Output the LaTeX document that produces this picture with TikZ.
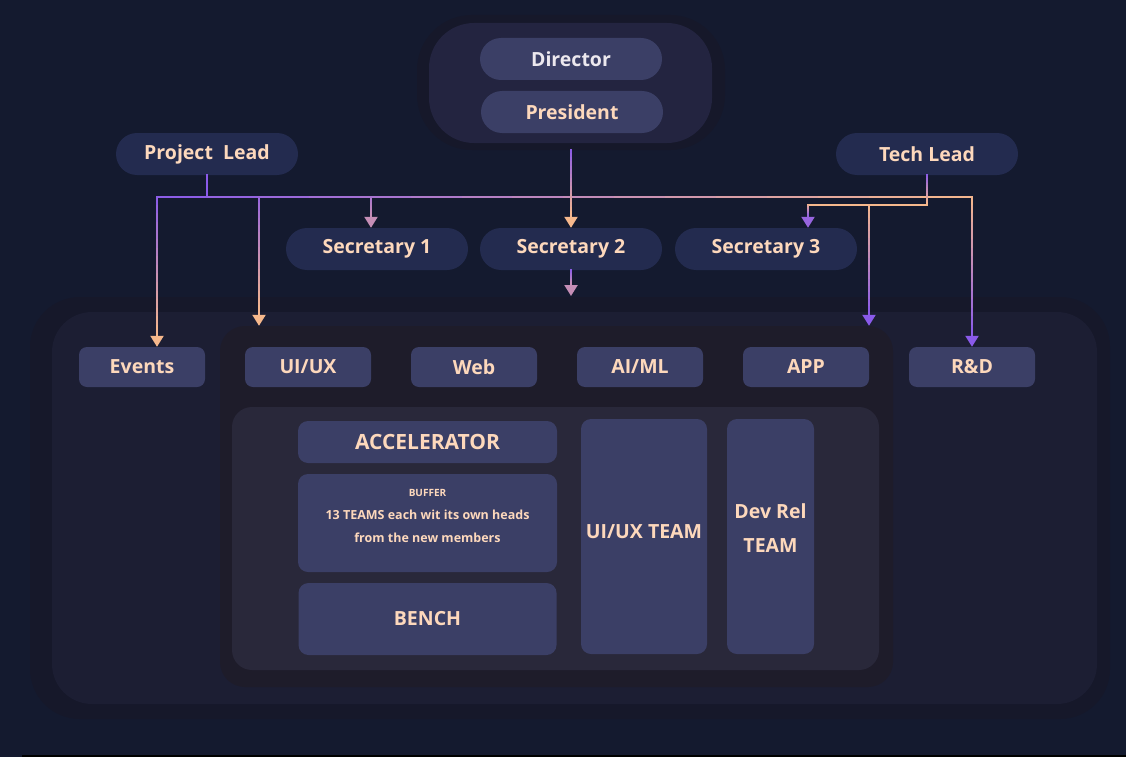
\documentclass[tikz,border=0pt]{standalone}
\usepackage{fontspec}
\setmainfont{Open Sans}
\usetikzlibrary{arrows.meta,calc}

\definecolor{bgnavy}{HTML}{141A2F}
\definecolor{framedark}{HTML}{16182A}
\definecolor{areanavy}{HTML}{1C1E33}
\definecolor{coredark}{HTML}{1E1C2A}
\definecolor{panelgrey}{HTML}{29283A}
\definecolor{boxblue}{HTML}{3B3F66}
\definecolor{pillblue}{HTML}{232B4F}
\definecolor{groupnavy}{HTML}{232440}
\definecolor{peach}{HTML}{FDD8BC}
\definecolor{paleink}{HTML}{ECE8EE}
\definecolor{wirepurple}{HTML}{8A5AEA}
\definecolor{wirepeach}{HTML}{F6B88C}

\newcommand{\boxfont}{\bfseries\fontsize{19.5}{34}\selectfont}

% wire that fades from purple to peach, in short pieces
\newcommand{\gradwire}[4]{%
  \foreach \k in {0,...,15}{%
    \pgfmathsetmacro{\gfrom}{\k/16}%
    \pgfmathsetmacro{\gto}{(\k+1)/16}%
    \pgfmathsetmacro{\gmix}{#3+(#4-#3)*(\k+0.5)/16}%
    \draw[wire, draw=wirepeach!\gmix!wirepurple] ($(#1)!\gfrom!(#2)$) -- ($(#1)!\gto!(#2)$);
  }}
\newcommand{\gradarrow}[4]{%
  \coordinate (gtail) at ($(#2)!12pt!(#1)$);
  \gradwire{#1}{gtail}{#3}{#4}%
  \draw[wire, line cap=butt, -{Triangle[width=13pt,length=11pt]},
    draw=wirepeach!#4!wirepurple, fill=wirepeach!#4!wirepurple] (gtail) -- (#2);
}

\begin{document}
\begin{tikzpicture}[
  x=1pt, y=-1pt,
  shell/.style={inner sep=0pt},
  pill/.style={rounded corners=21pt, fill=pillblue, minimum width=182pt, minimum height=42pt,
    inner sep=0pt, text=peach, font=\boxfont},
  unitbox/.style={rounded corners=8pt, fill=boxblue, minimum width=126pt, minimum height=40pt,
    inner sep=0pt, text=peach, font=\boxfont},
  teambox/.style={rounded corners=10pt, fill=boxblue, inner sep=0pt, text=peach,
    font=\boxfont, align=center},
  wire/.style={line width=2.2pt, line cap=rect}
]
\useasboundingbox (0,0) rectangle (1126,757);
\fill[bgnavy] (0,0) rectangle (1126,757);
\fill[black] (22,755) rectangle (1126,757);

% top group
\node[shell, fill=framedark, minimum width=308pt, minimum height=135pt, rounded corners=55pt] (topgroup) at (571,82.5) {};
\node[shell, fill=groupnavy, minimum width=283pt, minimum height=120pt, rounded corners=45pt] (topinner) at (570.5,83) {};
\node[pill, fill=boxblue, text=paleink] (director) at (571,59) {Director};
\node[pill, fill=boxblue] (president) at (572,112) {President};

\node[pill] (projlead) at (207,154) {Project\ \ Lead};
\node[pill] (techlead) at (927,154) {Tech Lead};
\node[pill] (sec1) at (377,249) {Secretary 1};
\node[pill] (sec2) at (571,249) {Secretary 2};
\node[pill] (sec3) at (766,249) {Secretary 3};

% containers
\node[shell, fill=framedark, minimum width=1080pt, minimum height=422pt, rounded corners=50pt] (outer) at (570,508) {};
\node[shell, fill=areanavy, minimum width=1045pt, minimum height=392pt, rounded corners=40pt] (area) at (574.5,508) {};
\node[shell, fill=coredark, minimum width=673pt, minimum height=361pt, rounded corners=25pt] (core) at (556.5,506.5) {};
\node[shell, fill=panelgrey, minimum width=647pt, minimum height=263pt, rounded corners=20pt] (panel) at (555.5,538.5) {};

\node[unitbox] (events) at (142,367) {Events};
\node[unitbox] (uiux) at (308,367) {UI/UX};
\node[unitbox] (web) at (474,367) {Web};
\node[unitbox] (aiml) at (640,367) {AI/ML};
\node[unitbox] (app) at (806,367) {APP};
\node[unitbox] (rnd) at (972,367) {R\&D};

\node[teambox, minimum width=259pt, minimum height=42pt, font=\bfseries\fontsize{21}{25}\selectfont] (accel) at (427.5,442) {ACCELERATOR};
\node[teambox, minimum width=259pt, minimum height=98pt] (buffer) at (427.5,523) {};
\node[text=peach, font=\bfseries\fontsize{12.5}{23}\selectfont, align=center, inner sep=0pt]
  (buffertext) at ([yshift=7pt]buffer.center)
  {{\fontsize{10}{12}\selectfont BUFFER}\\
   13 TEAMS each wit its own heads\\
   from the new members};
\node[teambox, minimum width=258pt, minimum height=72pt] (bench) at (427.5,619) {BENCH};
\node[teambox, minimum width=126pt, minimum height=235pt] (uiuxteam) at (644,536.5) {};
\node[text=peach, font=\boxfont, inner sep=0pt] (uiuxtext) at ([yshift=5pt]uiuxteam.center) {UI/UX TEAM};
\node[teambox, minimum width=87pt, minimum height=235pt] (devrel) at (770.5,536.5) {};
\node[text=peach, font=\boxfont, align=center, inner sep=0pt] (devreltext) at ([yshift=8pt]devrel.center) {Dev Rel\\TEAM};

% wires
\coordinate (pj) at (207,197);
\coordinate (pw) at (157,197);
\coordinate (pu) at (259,197);
\coordinate (ps) at (371,197);
\coordinate (pe) at (972,197);
\coordinate (tj) at (927,205);
\coordinate (t3) at (808,205);
\coordinate (ta) at (869,205);
\coordinate (intake) at (571,296);
\coordinate (evtip) at (pw |- events.north);
\coordinate (uitip) at (pu |- core.north);
\coordinate (s1tip) at (ps |- sec1.north);
\coordinate (s3tip) at (t3 |- sec3.north);
\coordinate (aptip) at (ta |- core.north);

\gradwire{projlead.south}{pj}{0}{0}
\gradwire{pw}{pe}{0}{100}
\gradarrow{pw}{evtip}{0}{100}
\gradarrow{pu}{uitip}{12}{100}
\gradarrow{ps}{s1tip}{26}{55}
\gradarrow{pe}{rnd.north}{100}{0}
\gradarrow{topgroup.south}{sec2.north}{0}{100}
\gradarrow{sec2.south}{intake}{0}{55}
\gradwire{techlead.south}{tj}{0}{100}
\gradwire{tj}{t3}{100}{100}
\gradarrow{t3}{s3tip}{100}{12}
\gradarrow{ta}{aptip}{100}{0}
\end{tikzpicture}
\end{document}
